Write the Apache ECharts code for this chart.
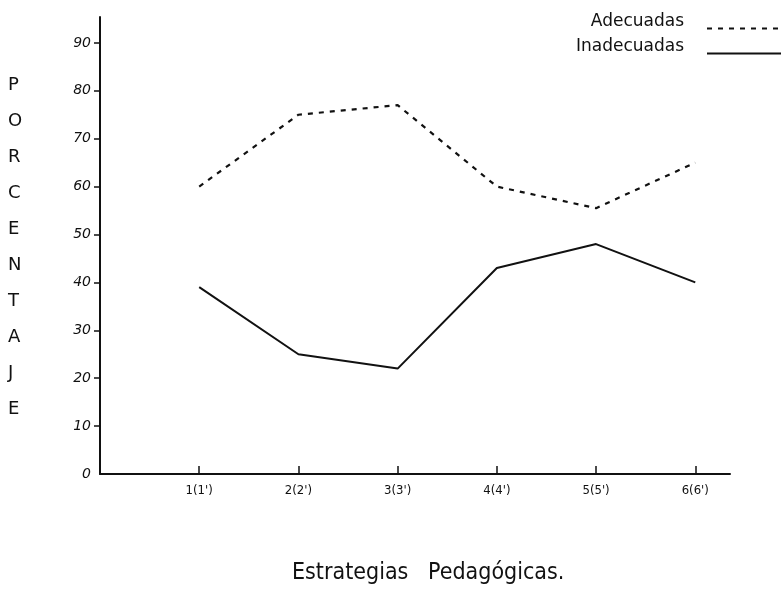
<!DOCTYPE html>
<html>
<head>
<meta charset="utf-8">
<script src="https://cdn.jsdelivr.net/npm/echarts@6/dist/echarts.min.js"></script>
<style>
  html, body { margin: 0; padding: 0; background: #fff; }
  #main { width: 782px; height: 599px; }
</style>
</head>
<body>
<div id="main"></div>
<script>
  // estrategias 1..6
  var categorias = ["1(1')", "2(2')", "3(3')", "4(4')", "5(5')", "6(6')"];
  var adecuadas = [60, 75, 77, 60, 55.5, 65];
  var inadecuadas = [39, 25, 22, 43, 48, 40];
  var ticksY = [0, 10, 20, 30, 40, 50, 60, 70, 80, 90];
  var ticksX = [1, 2, 3, 4, 5, 6];

  var chart = echarts.init(document.getElementById('main'));

  function pares(valores) {
    return valores.map(function (v, i) { return [i + 1, v]; });
  }

  var option = {
    backgroundColor: '#fff',
    animation: false,
    grid: { left: 100, right: 52, top: 17, bottom: 125 },
    legend: {
      orient: 'vertical',
      right: 0,
      top: 13,
      padding: 0,
      align: 'right',
      itemWidth: 74,
      itemHeight: 10,
      itemGap: -6,
      itemStyle: { opacity: 0 },
      // texto un poco por encima de la muestra de línea
      formatter: function (name) { return name + '\n '; },
      textStyle: {
        fontFamily: 'DejaVu Sans',
        fontSize: 17,
        lineHeight: 14,
        color: '#111',
        padding: [0, 18, 0, 0]
      },
      data: ['Adecuadas', 'Inadecuadas']
    },
    xAxis: {
      type: 'value',
      min: 0,
      max: 6.35,
      interval: 1,
      splitLine: { show: false },
      axisLine: { lineStyle: { color: '#111', width: 2 } },
      axisTick: { inside: true, length: 8, customValues: ticksX, lineStyle: { color: '#111', width: 1.5 } },
      axisLabel: {
        customValues: ticksX,
        margin: 10,
        color: '#111',
        fontFamily: 'DejaVu Sans Condensed',
        fontSize: 13,
        formatter: function (v) { return categorias[v - 1] || ''; }
      }
    },
    yAxis: {
      type: 'value',
      min: 0,
      max: 95.4,
      interval: 10,
      splitLine: { show: false },
      axisLine: { lineStyle: { color: '#111', width: 2 } },
      axisTick: { length: 6, customValues: ticksY.slice(1), lineStyle: { color: '#111', width: 1.5 } },
      axisLabel: {
        customValues: ticksY,
        margin: 9,
        color: '#111',
        fontFamily: 'DejaVu Sans',
        fontStyle: 'italic',
        fontSize: 14
      }
    },
    graphic: [
      {
        type: 'text',
        left: 8,
        top: 67,
        style: {
          text: 'PORCENTAJE'.split('').join('\n'),
          fontFamily: 'DejaVu Sans',
          fontSize: 18,
          lineHeight: 36,
          fill: '#111',
          align: 'center'
        }
      },
      {
        type: 'text',
        left: 292,
        top: 562,
        style: {
          text: 'Estrategias   Pedagógicas.',
          fontFamily: 'DejaVu Sans Condensed',
          fontSize: 23,
          fill: '#111'
        }
      }
    ],
    series: [
      {
        name: 'Adecuadas',
        type: 'line',
        symbol: 'none',
        data: pares(adecuadas),
        lineStyle: { color: '#111', width: 2.2, type: [5, 6] },
        itemStyle: { color: '#111' }
      },
      {
        name: 'Inadecuadas',
        type: 'line',
        symbol: 'none',
        data: pares(inadecuadas),
        lineStyle: { color: '#111', width: 2 },
        itemStyle: { color: '#111' }
      }
    ]
  };

  chart.setOption(option);
</script>
</body>
</html>
